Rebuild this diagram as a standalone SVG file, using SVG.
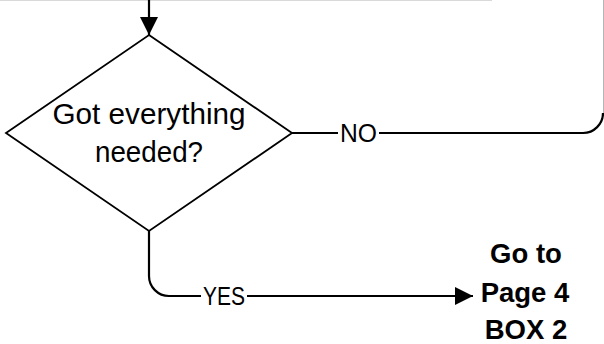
<svg xmlns="http://www.w3.org/2000/svg" width="604" height="344" viewBox="0 0 604 344">
  <style>
    .line { fill: none; stroke: #000; stroke-width: 2.2; }
    .shape { fill: #fff; stroke: #000; stroke-width: 1.8; }
    .txt { font-family: "Liberation Sans", Arial, sans-serif; font-size: 29.5px; fill: #000; text-anchor: middle; }
    .lbl { font-family: "Liberation Sans", Arial, sans-serif; font-size: 26px; fill: #000; text-anchor: middle; }
    .bold { font-family: "Liberation Sans", Arial, sans-serif; font-size: 27.5px; font-weight: bold; fill: #000; text-anchor: middle; }
  </style>
  <defs>
    <marker id="arrow" viewBox="0 0 10 10" refX="10" refY="5" markerWidth="8.2" markerHeight="8.2" markerUnits="strokeWidth" orient="auto">
      <path d="M0,0 L10,5 L0,10 Z" fill="#000"/>
    </marker>
  </defs>
  <rect x="0" y="0" width="604" height="344" fill="#fff"/>
  <line x1="0" y1="0.5" x2="492" y2="0.5" stroke="#d9d9d9" stroke-width="1"/>

  <g id="connectors">
    <path class="line" d="M149,0 V35" marker-end="url(#arrow)"/>
    <path class="line" d="M292,133 H338"/>
    <path class="line" d="M379,133 H583 A20,20 0 0 0 603,113"/>
    <line x1="603.5" y1="0" x2="603.5" y2="113" stroke="#b5b5b5" stroke-width="1"/>
    <path class="line" d="M149,230 V276 A20,20 0 0 0 169,296 H201"/>
    <path class="line" d="M247,296 H473" marker-end="url(#arrow)"/>
    <text class="lbl" x="358.5" y="142" textLength="37" lengthAdjust="spacingAndGlyphs">NO</text>
    <text class="lbl" x="224" y="305" textLength="42" lengthAdjust="spacingAndGlyphs">YES</text>
  </g>

  <g id="decision">
    <polygon class="shape" points="149,35 292,133 149,231 6,133"/>
    <text class="txt" x="149" y="124" textLength="193" lengthAdjust="spacingAndGlyphs">Got everything</text>
    <text class="txt" x="149" y="162" textLength="108" lengthAdjust="spacingAndGlyphs">needed?</text>
  </g>

  <g id="goto">
    <text class="bold" x="526" y="263">Go to</text>
    <text class="bold" x="525" y="302">Page 4</text>
    <text class="bold" x="526" y="339">BOX 2</text>
  </g>
</svg>
